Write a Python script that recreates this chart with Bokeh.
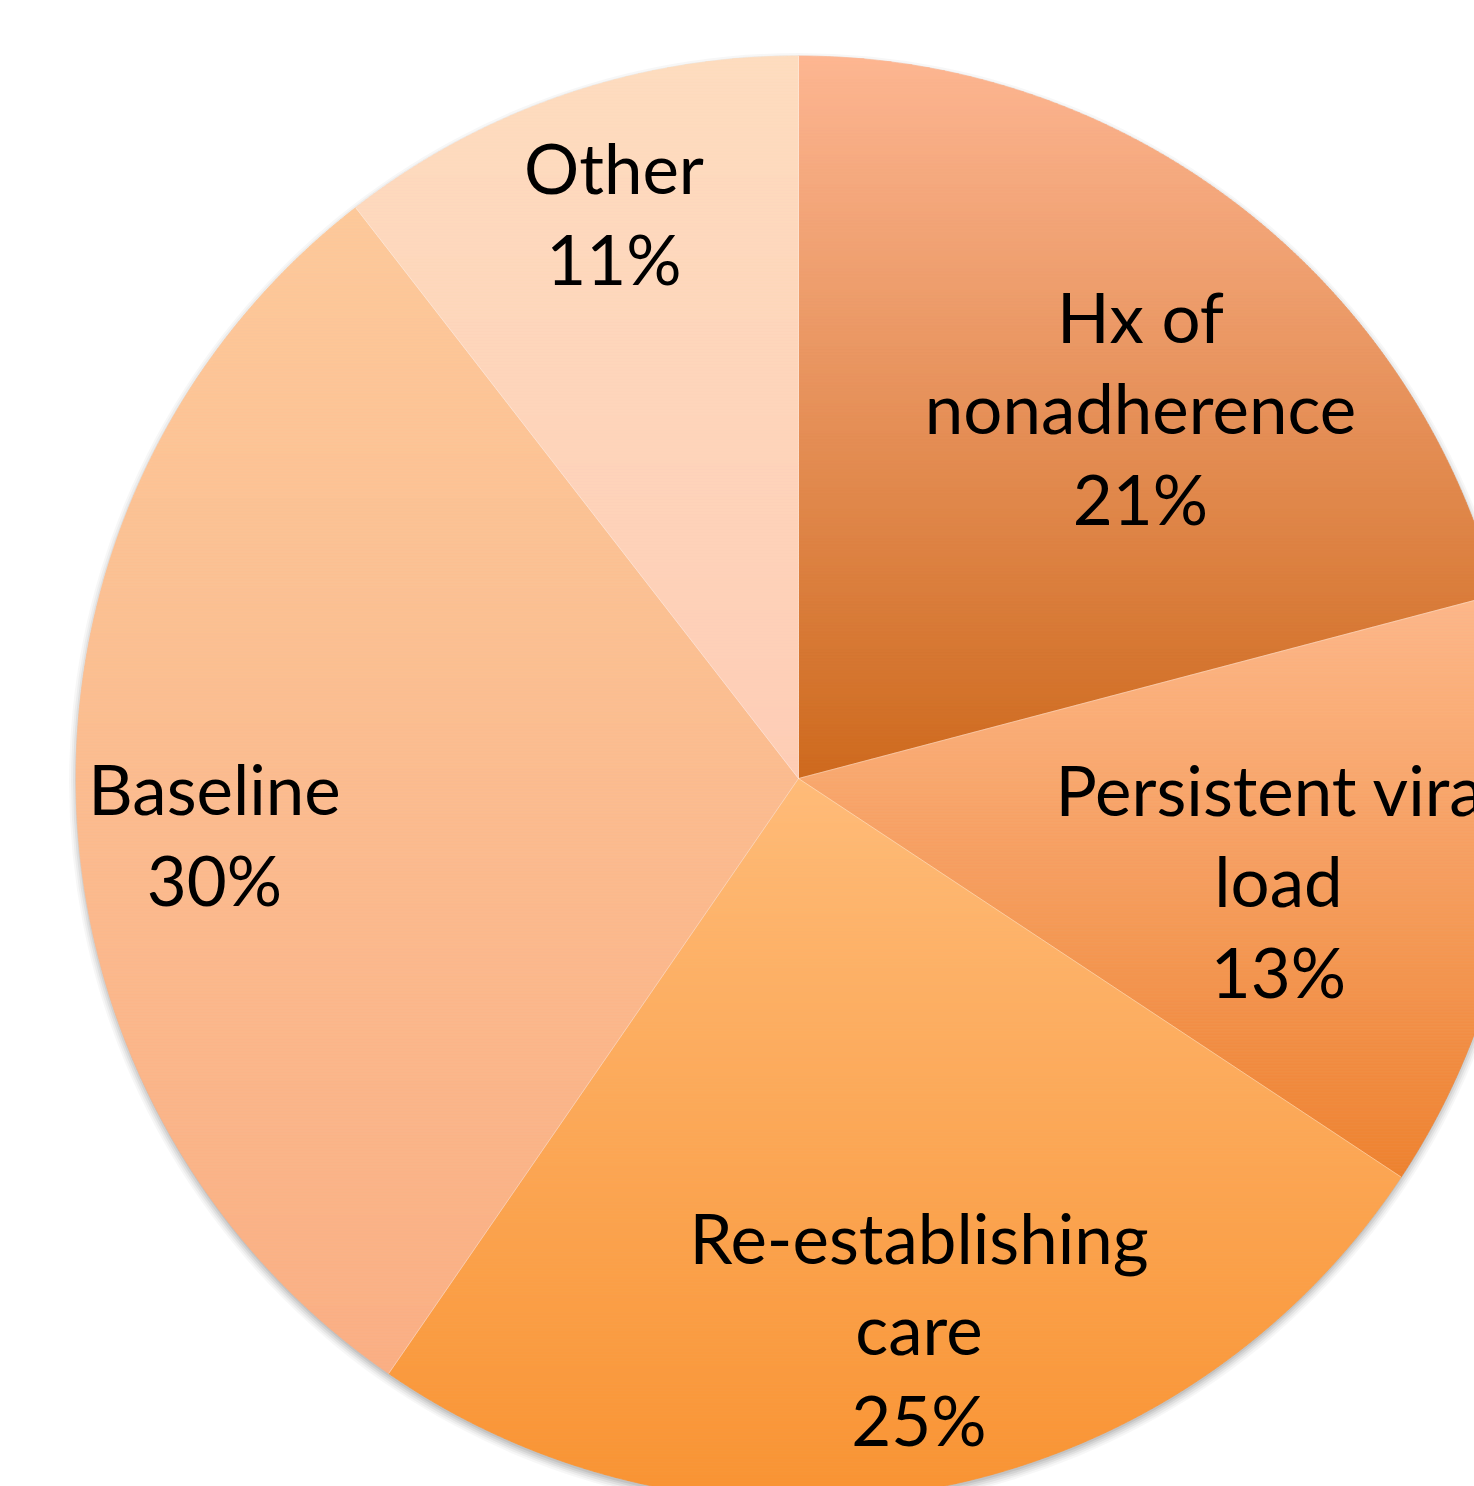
import numpy as np
from bokeh.plotting import figure
from bokeh.models import Range1d
from bokeh.embed import file_html
from bokeh.resources import INLINE
from bokeh.core.properties import value

# ---------------- data ----------------
categories = ["Hx of nonadherence", "Persistent viral load", "Re-establishing care", "Baseline", "Other"]
shares = [20.9, 13.4, 25.3, 29.9, 10.5]
name_lines = [["Hx of", "nonadherence"], ["Persistent viral", "load"], ["Re-establishing", "care"], ["Baseline"], ["Other"]]
pct_labels = ["21%", "13%", "25%", "30%", "11%"]

# ---------------- style / layout ----------------
grad_top = ["#FDB692", "#FDB88A", "#FFBB78", "#FDC99A", "#FDDCBF"]
grad_bottom = ["#CE6A1E", "#EE8230", "#F99332", "#FBAF84", "#FECDB6"]
R = 722.5
# label anchor (x centre, first baseline y), pixels relative to pie centre
label_anchor = [(342, 436), (480, -37), (120.5, -485), (-584, -36), (-184.5, 585)]
TEXT_SHIFT = 26  # compensation for renderer baseline placement
LINE_STEP = 91
FONT = "Lato"
FONT_SIZE = "69px"

W, H = 1474, 1486
PAGE_X0, PAGE_Y0 = 0, 0
CX_PAGE, CY_PAGE = 798, 778

p = figure(width=W, height=H, output_backend="svg", toolbar_location=None,
           x_axis_location=None, y_axis_location=None,
           x_range=Range1d(PAGE_X0 - CX_PAGE, PAGE_X0 + W - CX_PAGE),
           y_range=Range1d(CY_PAGE - PAGE_Y0 - H, CY_PAGE - PAGE_Y0),
           min_border=0, outline_line_color=None, background_fill_color="white",
           border_fill_color="white")
p.grid.visible = False


def hex2rgb(h):
    h = h.lstrip("#")
    return np.array([int(h[i:i + 2], 16) for i in (0, 2, 4)], dtype=float)


def rgb2hex(c):
    return "#%02x%02x%02x" % tuple(int(round(v)) for v in c)


def clip_y(pts, yc, keep_above):
    out = []
    n = len(pts)
    for i in range(n):
        cx, cy = pts[i]
        px, py = pts[i - 1]
        cin = cy >= yc if keep_above else cy <= yc
        pin = py >= yc if keep_above else py <= yc
        if cin:
            if not pin:
                t = (yc - py) / (cy - py)
                out.append((px + t * (cx - px), yc))
            out.append((cx, cy))
        elif pin:
            t = (yc - py) / (cy - py)
            out.append((px + t * (cx - px), yc))
    return out


# shadow under the pie
for k, a in [(7, 0.03), (5, 0.04), (3, 0.05), (1, 0.06), (-1, 0.07)]:
    p.circle(x=[0], y=[-4], radius=R + k, fill_color="black", fill_alpha=a, line_color=None)

total = float(sum(shares))
cum = np.concatenate([[0.0], np.cumsum(shares)]) / total
starts = np.pi / 2 - 2 * np.pi * cum[:-1]
ends = np.pi / 2 - 2 * np.pi * cum[1:]

band_xs, band_ys, band_cols = [], [], []
for i in range(len(shares)):
    n_arc = max(8, int(abs(ends[i] - starts[i]) * 200))
    th = np.linspace(starts[i], ends[i], n_arc)
    poly = [(0.0, 0.0)] + [(R * np.cos(t), R * np.sin(t)) for t in th]
    ys_all = [q[1] for q in poly]
    ytop, ybot = max(ys_all), min(ys_all)
    c0, c1 = hex2rgb(grad_top[i]), hex2rgb(grad_bottom[i])
    step = 3.0
    y = ytop
    while y > ybot:
        y_lo = max(y - step, ybot)
        piece = clip_y(clip_y(poly, y_lo, True), y, False)
        if len(piece) >= 3:
            f = (ytop - (y + y_lo) / 2) / (ytop - ybot)
            col = rgb2hex(c0 + f * (c1 - c0))
            band_xs.append([q[0] for q in piece])
            band_ys.append([q[1] for q in piece])
            band_cols.append(col)
        y = y_lo

p.patches(xs=band_xs, ys=band_ys, fill_color=band_cols, line_color=band_cols, line_width=0.7)

# faint separators
p.segment(x0=[0] * len(starts), y0=[0] * len(starts),
          x1=list(R * np.cos(starts)), y1=list(R * np.sin(starts)),
          line_color="white", line_alpha=0.35, line_width=1)

# labels
tx, ty, tt = [], [], []
for i in range(len(shares)):
    lines = name_lines[i] + [pct_labels[i]]
    ax, ay = label_anchor[i]
    for j, s in enumerate(lines):
        tx.append(ax)
        ty.append(ay - j * LINE_STEP + TEXT_SHIFT)
        tt.append(s)
p.text(x=tx, y=ty, text=tt, text_font=value(FONT), text_font_size=FONT_SIZE,
       text_align="center", text_baseline="alphabetic", text_color="black")

open("out.html", "w").write(file_html(p, INLINE))
